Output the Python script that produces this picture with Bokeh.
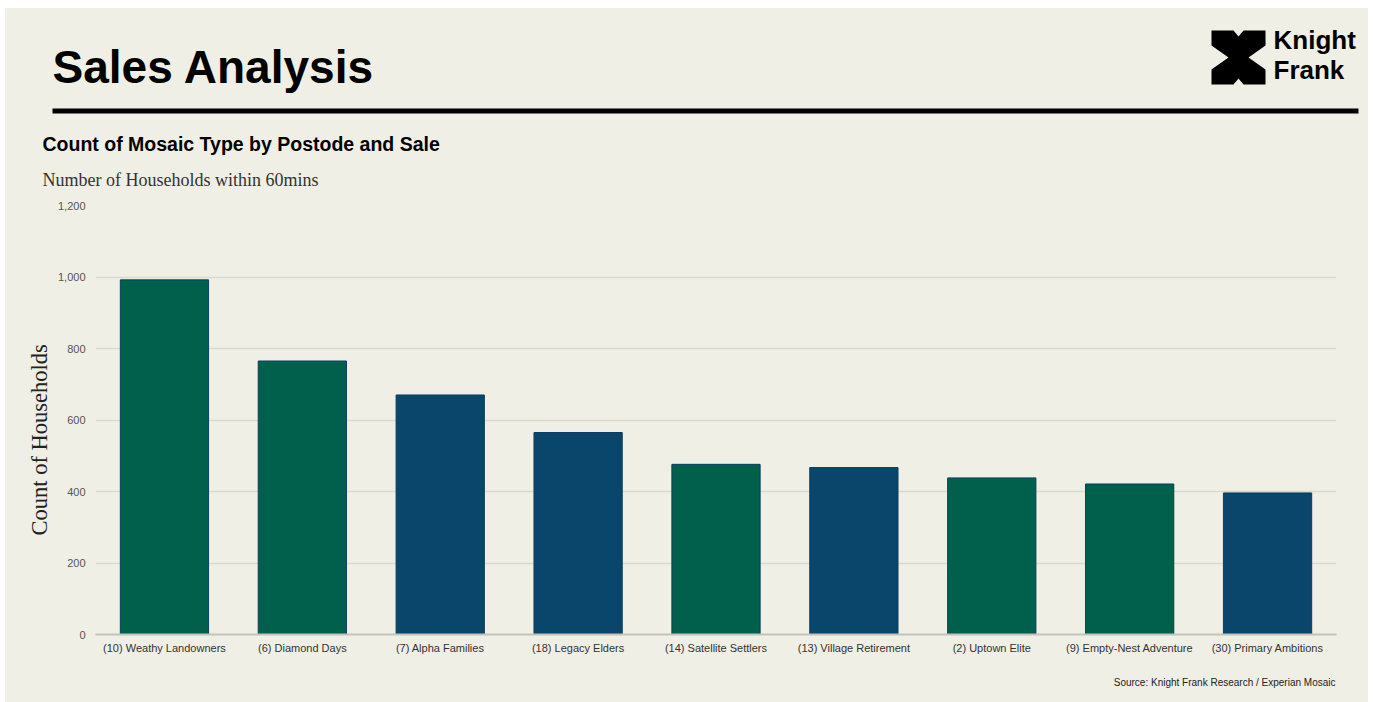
from bokeh.plotting import figure
from bokeh.models import (Label, Title, FixedTicker, NumeralTickFormatter, Spacer,
                          ColumnDataSource)
from bokeh.layouts import column, row
from bokeh.embed import file_html
from bokeh.resources import INLINE

# ---- data ----
categories = ["(10) Weathy Landowners", "(6) Diamond Days", "(7) Alpha Families",
              "(18) Legacy Elders", "(14) Satellite Settlers", "(13) Village Retirement",
              "(2) Uptown Elite", "(9) Empty-Nest Adventure", "(30) Primary Ambitions"]
households = [992, 765, 670, 565, 476, 467, 438, 421, 396]
groups = ["green", "green", "blue", "blue", "green", "blue", "green", "green", "blue"]
y_ticks = [0, 200, 400, 600, 800, 1000, 1200]

BG = "#f0efe5"
GREEN = "#00604c"
BLUE = "#0a456b"
palette = {"green": GREEN, "blue": BLUE}

W = 1363
H_HEAD, H_MAIN, H_FOOT = 185, 473, 36


def canvas_fig(h):
    f = figure(width=W, height=h, x_range=(0, W), y_range=(h, 0),
               output_backend="svg", toolbar_location=None,
               x_axis_location=None, y_axis_location=None,
               min_border=0, min_border_left=0, min_border_right=0,
               min_border_top=0, min_border_bottom=0,
               background_fill_color=BG, border_fill_color=BG,
               outline_line_color=None, frame_align=False)
    f.xgrid.grid_line_color = None
    f.ygrid.grid_line_color = None
    return f


def label(f, x, y, text, size, font="Liberation Sans", style="normal",
          color="#000000", align="left"):
    f.add_layout(Label(x=x, y=y, text=text, text_font=font, text_font_size=size,
                       text_font_style=style, text_color=color, text_align=align,
                       text_baseline="alphabetic"))


# ---- header ----
head = canvas_fig(H_HEAD)
label(head, 47, 58, "Sales Analysis", "46px", style="bold")
label(head, 37, 135, "Count of Mosaic Type by Postode and Sale", "19.5px", style="bold")
label(head, 37, 171, "Number of Households within 60mins", "18px",
      font="Liberation Serif", color="#333333")
head.quad(left=[47], right=[1353], top=[100], bottom=[105],
          fill_color="#000000", line_color=None)

# logo icon: square with notches
x0, x1, y0, y1 = 1206, 1260, 22, 76
xm, ym = (x0 + x1) / 2, (y0 + y1) / 2
icon_x = [x0, xm - 5, xm, xm + 5, x1, x1, x1 - 17, x1, x1, xm + 5, xm, xm - 5,
          x0, x0, x0 + 17, x0]
icon_y = [y0, y0, y0 + 6, y0, y0, ym - 12, ym, ym + 12, y1, y1, y1 - 6, y1,
          y1, ym + 12, ym, ym - 12]
head.patch(icon_x, icon_y, fill_color="#000000", line_color=None)
label(head, 1268, 31, "Knight", "26px", style="bold")
label(head, 1268, 61, "Frank", "26px", style="bold")

# ---- main chart ----
src = ColumnDataSource(dict(cat=categories, val=households,
                            color=[palette[g] for g in groups]))

p = figure(x_range=categories, y_range=(0, 1200), width=W, height=H_MAIN,
           output_backend="svg", toolbar_location=None,
           min_border_left=90, min_border_right=32, min_border_top=12,
           min_border_bottom=32, background_fill_color=BG, border_fill_color=BG,
           outline_line_color=None, frame_align=False)

p.vbar(x="cat", top="val", width=0.64, source=src, fill_color="color",
       line_color="#0b3d60", line_width=1)

p.yaxis.ticker = FixedTicker(ticks=y_ticks)
p.yaxis.formatter = NumeralTickFormatter(format="0,0")
p.yaxis.axis_line_color = None
p.yaxis.major_tick_line_color = None
p.yaxis.major_tick_out = 0
p.yaxis.major_tick_in = 0
p.yaxis.minor_tick_line_color = None
p.yaxis.major_label_standoff = 10
p.yaxis.major_label_text_font = "Liberation Sans"
p.yaxis.major_label_text_font_size = "11px"
p.yaxis.major_label_text_color = "#555555"

# y-axis title, placed lower than the frame centre as in the reference
p.add_layout(Title(text="Count of Households", align="left", offset=99,
                   standoff=5, text_font="Liberation Serif",
                   text_font_style="normal", text_font_size="22.5px",
                   text_color="#222222"), "left")

p.xaxis.axis_line_color = "#c4c4bc"
p.xaxis.axis_line_width = 2
p.xaxis.major_tick_line_color = None
p.xaxis.major_tick_out = 0
p.xaxis.major_tick_in = 0
p.xaxis.minor_tick_line_color = None
p.xaxis.major_label_standoff = 7
p.xaxis.major_label_text_font = "Liberation Sans"
p.xaxis.major_label_text_font_size = "11px"
p.xaxis.major_label_text_color = "#333333"

p.xgrid.grid_line_color = None
p.ygrid.grid_line_color = "#dad9d0"
p.ygrid.grid_line_width = 1.5

# ---- footer ----
foot = canvas_fig(H_FOOT)
label(foot, 1330, 16, "Source: Knight Frank Research / Experian Mosaic", "10px",
      color="#222222", align="right")

inner = column(head, p, foot, spacing=0, styles={"background-color": BG})
layout = column(Spacer(height=8), row(Spacer(width=5), inner, spacing=0), spacing=0)
open("out.html", "w").write(file_html(layout, INLINE))
